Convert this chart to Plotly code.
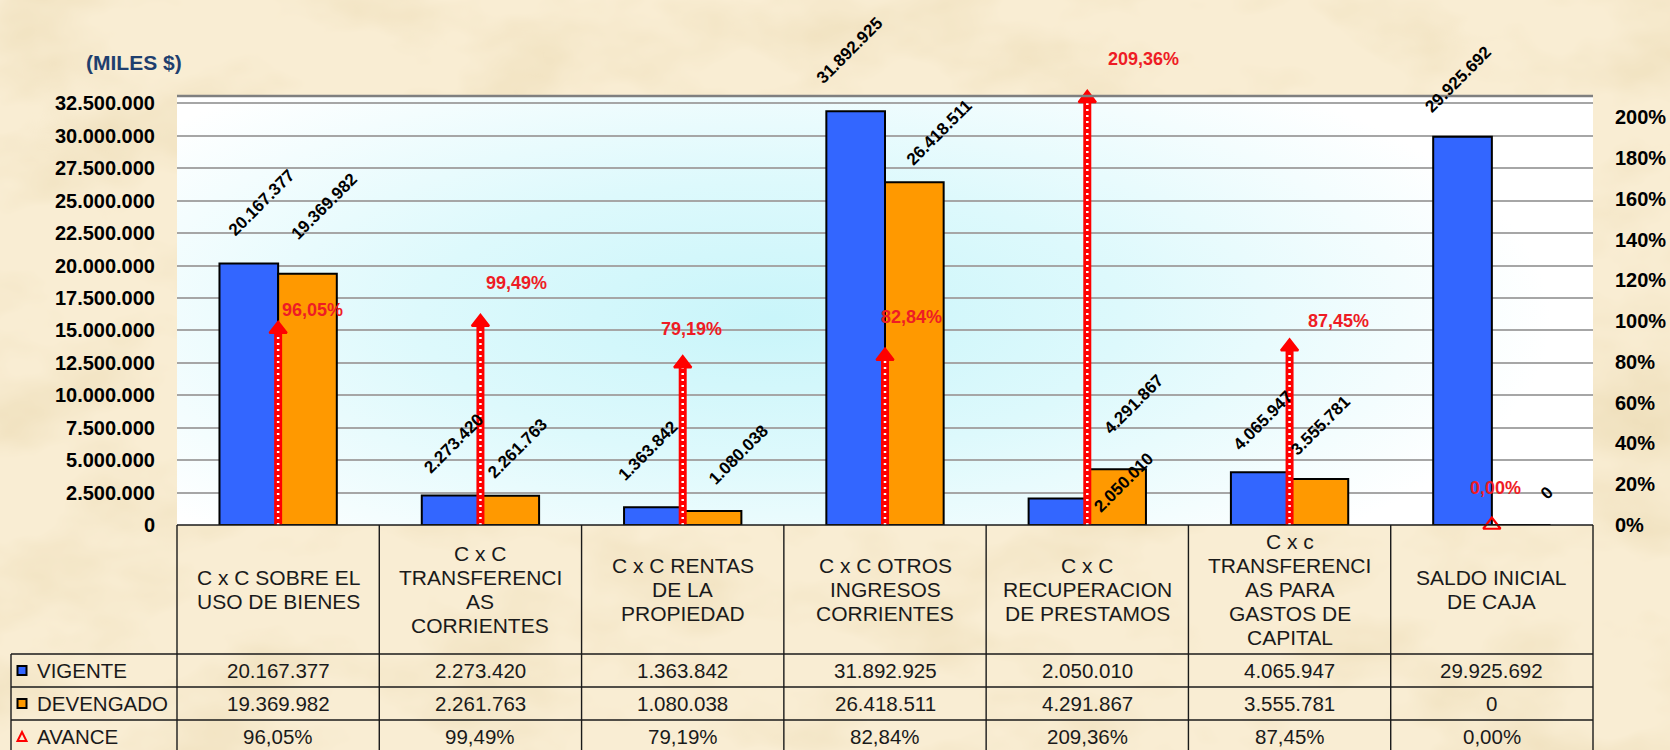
import base64
import plotly.graph_objects as go

# ---------------- data ----------------
categorias = [
    "C x C SOBRE EL<br>USO DE BIENES",
    "C x C<br>TRANSFERENCI<br>AS<br>CORRIENTES",
    "C x C RENTAS<br>DE LA<br>PROPIEDAD",
    "C x C OTROS<br>INGRESOS<br>CORRIENTES",
    "C x C<br>RECUPERACION<br>DE PRESTAMOS",
    "C x c<br>TRANSFERENCI<br>AS PARA<br>GASTOS DE<br>CAPITAL",
    "SALDO INICIAL<br>DE CAJA",
]
vigente = [20167377, 2273420, 1363842, 31892925, 2050010, 4065947, 29925692]
devengado = [19369982, 2261763, 1080038, 26418511, 4291867, 3555781, 0]
avance = [96.05, 99.49, 79.19, 82.84, 209.36, 87.45, 0.00]
series = ["VIGENTE", "DEVENGADO", "AVANCE"]
left_ticks = [0, 2500000, 5000000, 7500000, 10000000, 12500000, 15000000,
              17500000, 20000000, 22500000, 25000000, 27500000, 30000000, 32500000]
right_ticks = [0, 20, 40, 60, 80, 100, 120, 140, 160, 180, 200]
unidad = "(MILES $)"

# ---------------- styling / geometry ----------------
W, H = 1670, 750
PL, PR, PT, PB = 177, 1593, 97, 525
FONT = "Liberation Sans, Arial, sans-serif"
BLUE, ORANGE, RED, RED_TXT = "#3366FF", "#FF9900", "#FF0000", "#EE1C25"
BARGAP = 0.42
N = len(categorias)
CW = (PR - PL) / N


def px(x):
    return (x - PL) / (PR - PL)


def py(y):
    return (PB - y) / (PB - PT)


def fmt_int(v):
    return f"{v:,}".replace(",", ".")


def fmt_pct(v):
    return f"{v:.2f}".replace(".", ",") + "%"


# label placement offsets (pixels) relative to bar top / arrow tip
off_v = [(13, -61), (3, -52), (-5, -57), (-6, -61), (66, -16), (3, -52), (-4, -57)]
off_d = [(17, -67), (8, -47), (27, -56), (25, -50), (17, -65), (2, -53), (25, -32)]
off_p = [(34, -19), (36, -39), (9, -35), (26, -39), (56, -39), (49, -26), (4, -37)]

fig = go.Figure()
fig.add_trace(go.Bar(x=categorias, y=vigente, name=series[0], marker=dict(color=BLUE, line=dict(color="black", width=2))))
fig.add_trace(go.Bar(x=categorias, y=devengado, name=series[1], marker=dict(color=ORANGE, line=dict(color="black", width=2))))

lx, ly = [], []
for c, v in zip(categorias, avance):
    lx += [c, c, None]
    ly += [0, v, None]
fig.add_trace(go.Scatter(x=lx, y=ly, yaxis="y2", mode="lines", line=dict(color=RED, width=8), hoverinfo="skip"))
fig.add_trace(go.Scatter(x=lx, y=ly, yaxis="y2", mode="lines", line=dict(color="white", width=2.5, dash="2px,4px"), hoverinfo="skip"))
fig.add_trace(go.Scatter(
    x=categorias, y=avance, yaxis="y2", mode="markers", name=series[2], cliponaxis=False,
    marker=dict(symbol=["triangle-up" if v > 0 else "triangle-up-open" for v in avance],
                size=15, color=RED, line=dict(color=RED, width=2.2)),
))

# ---------------- backgrounds ----------------
parch = f"""<svg xmlns='http://www.w3.org/2000/svg' width='{W}' height='{H}' viewBox='0 0 {W} {H}'>
<defs><filter id='n' x='0' y='0' width='100%' height='100%'>
<feTurbulence type='fractalNoise' baseFrequency='0.007 0.011' numOctaves='4' seed='11'/>
<feColorMatrix type='matrix' values='0 0 0 0 0.86  0 0 0 0 0.74  0 0 0 0 0.50  2.0 0 0 0 -0.9'/>
</filter></defs>
<rect width='100%' height='100%' fill='#F9EDD3'/>
<rect width='100%' height='100%' filter='url(#n)'/>
</svg>"""
grad = """<svg xmlns='http://www.w3.org/2000/svg' width='1000' height='400' viewBox='0 0 1000 400' preserveAspectRatio='none'>
<defs><radialGradient id='g' cx='0.42' cy='0.52' r='0.55' gradientTransform='translate(0.42 0.52) scale(1 1.3) translate(-0.42 -0.52)'>
<stop offset='0' stop-color='#C9F5FA'/><stop offset='0.45' stop-color='#DDF9FC'/><stop offset='1' stop-color='#FFFFFF'/>
</radialGradient></defs>
<rect width='1000' height='400' fill='#FFFFFF'/>
<rect width='1000' height='400' fill='url(#g)'/>
</svg>"""


def uri(s):
    return "data:image/svg+xml;base64," + base64.b64encode(s.encode()).decode()


images = [
    dict(source=uri(parch), xref="paper", yref="paper", x=px(0), y=py(0),
         sizex=W / (PR - PL), sizey=H / (PB - PT), xanchor="left", yanchor="top",
         sizing="stretch", layer="below"),
    dict(source=uri(grad), xref="paper", yref="paper", x=0, y=1, sizex=1, sizey=1,
         xanchor="left", yanchor="top", sizing="stretch", layer="below"),
]

# ---------------- annotations ----------------
ann = []
boff = (1 - BARGAP) / 4
for i in range(N):
    for vals, off, sgn in ((vigente, off_v, -1), (devengado, off_d, 1)):
        ann.append(dict(x=i + sgn * boff, xref="x", y=vals[i], yref="y", text=fmt_int(vals[i]),
                        showarrow=False, textangle=-45, xanchor="center", yanchor="middle",
                        xshift=off[i][0], yshift=-off[i][1],
                        font=dict(family=FONT, size=17, color="black", weight="bold")))
    ann.append(dict(x=i, xref="x", y=avance[i], yref="y2", text=fmt_pct(avance[i]), showarrow=False,
                    xanchor="center", yanchor="middle", xshift=off_p[i][0], yshift=-off_p[i][1],
                    font=dict(family=FONT, size=18, color=RED_TXT, weight="bold")))

ann.append(dict(x=px(134), y=py(63), xref="paper", yref="paper", text=unidad, showarrow=False,
                xanchor="center", yanchor="middle",
                font=dict(family=FONT, size=21, color="#1F3F6E", weight="bold")))

# table: header texts (line by line)
TXT = "#1A1A1A"
HDR_C, LINE_SP = 589, 24
for i, c in enumerate(categorias):
    lines = c.split("<br>")
    n = len(lines)
    for k, t in enumerate(lines):
        yy = HDR_C + (k - (n - 1) / 2) * LINE_SP
        ann.append(dict(x=px(PL + CW * (i + 0.5)), y=py(yy), xref="paper", yref="paper", text=t,
                        showarrow=False, xanchor="center", yanchor="middle",
                        font=dict(family=FONT, size=21, color=TXT)))

ROW_Y = [654, 687, 720, 753]
rows = [[fmt_int(v) for v in vigente], [fmt_int(v) for v in devengado], [fmt_pct(v) for v in avance]]
for r, vals in enumerate(rows):
    yc = (ROW_Y[r] + ROW_Y[r + 1]) / 2
    ann.append(dict(x=px(35), y=py(yc), xref="paper", yref="paper", text=series[r], showarrow=False,
                    xanchor="left", yanchor="middle", font=dict(family=FONT, size=20.5, color=TXT)))
    for i, t in enumerate(vals):
        ann.append(dict(x=px(PL + CW * (i + 0.5)), y=py(yc), xref="paper", yref="paper", text=t,
                        showarrow=False, xanchor="center", yanchor="middle",
                        font=dict(family=FONT, size=20.5, color=TXT)))

# ---------------- shapes ----------------
shapes = []


def hline(x0, x1, y, color="#1A1A1A", w=1.4):
    shapes.append(dict(type="line", xref="paper", yref="paper", x0=px(x0), x1=px(x1), y0=py(y), y1=py(y),
                       line=dict(color=color, width=w), layer="above"))


def vline(x, y0, y1, color="#1A1A1A", w=1.4):
    shapes.append(dict(type="line", xref="paper", yref="paper", x0=px(x), x1=px(x), y0=py(y0), y1=py(y1),
                       line=dict(color=color, width=w), layer="above"))


hline(PL, PR, PT - 1, color="#7F7F7F", w=2.5)
hline(PL, PR, PB)
for yy in ROW_Y[:3]:
    hline(11, PR, yy)
for k in range(N + 1):
    vline(PL + CW * k, PB, H)
vline(11, ROW_Y[0], H)

for r, col in enumerate([BLUE, ORANGE]):
    yc = (ROW_Y[r] + ROW_Y[r + 1]) / 2
    shapes.append(dict(type="rect", xref="paper", yref="paper", x0=px(17.5), x1=px(26.5),
                       y0=py(yc - 4.5), y1=py(yc + 4.5), fillcolor=col, line=dict(color="black", width=2)))
yc = (ROW_Y[2] + ROW_Y[3]) / 2
shapes.append(dict(type="path", xref="paper", yref="paper",
                   path=f"M {px(17.5)},{py(yc + 4.5)} L {px(26.5)},{py(yc + 4.5)} L {px(22)},{py(yc - 4.5)} Z",
                   line=dict(color=RED, width=2), fillcolor="rgba(0,0,0,0)"))

tickfont = dict(family=FONT, size=20, color="black", weight="bold")
fig.update_layout(
    width=W, height=H, autosize=False,
    margin=dict(l=PL, r=W - PR, t=PT, b=H - PB, pad=0, autoexpand=False),
    paper_bgcolor="#F5E6C8", plot_bgcolor="rgba(0,0,0,0)",
    barmode="group", bargap=BARGAP, bargroupgap=0,
    showlegend=False, separators=",.",
    images=images, annotations=ann, shapes=shapes,
    xaxis=dict(type="category", range=[-0.5, N - 0.5], showticklabels=False, showgrid=False,
               zeroline=False, showline=False, ticks="", automargin=False),
    yaxis=dict(range=[0, 33000000], tickmode="array", tickvals=left_ticks,
               ticktext=[fmt_int(v) for v in left_ticks], showgrid=True,
               gridcolor="#A6A6A6", gridwidth=1.5, zeroline=False, showline=False, automargin=False,
               ticks="outside", ticklen=17, tickcolor="rgba(0,0,0,0)", tickfont=tickfont),
    yaxis2=dict(range=[0, 210], overlaying="y", side="right", tickmode="array", tickvals=right_ticks,
                ticktext=[f"{v}%" for v in right_ticks], showgrid=False, zeroline=False, showline=False,
                automargin=False,
                ticks="outside", ticklen=17, tickcolor="rgba(0,0,0,0)", tickfont=tickfont),
)

fig.write_html("out.html", config={"displayModeBar": False},
               post_script="document.body.style.margin='0';document.body.style.overflow='hidden';")
